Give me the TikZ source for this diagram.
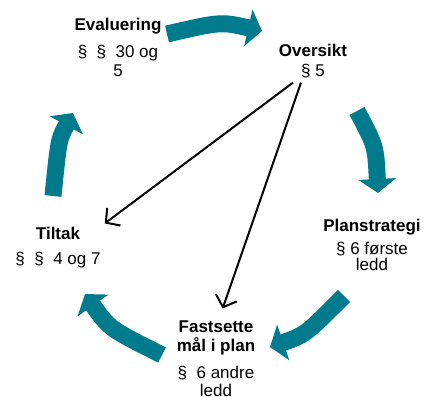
\documentclass[tikz,border=0pt]{standalone}
\usepackage{fontspec}
\setmainfont{Liberation Sans}
\usetikzlibrary{arrows.meta}
\definecolor{syklus}{RGB}{0,122,141}
\begin{document}
\begin{tikzpicture}[
    x=1pt, y=1pt,
    blokk/.style={align=center, inner sep=4pt, anchor=base, font=\fontsize{17}{19}\selectfont},
    sirkelpil/.style={draw=syklus, line width=17pt, -{Triangle[length=14pt, width=37pt]}},
    peker/.style={draw=black, line width=2pt, -{Straight Barb[length=10pt, width=22pt]}}
  ]
  \useasboundingbox (0,0) rectangle (424,397);

  % sykluspiler
  \draw[sirkelpil] (167,363) .. controls (221,375.4) .. (248.4,369.1) -- (262,366);
  \draw[sirkelpil] (357,286) .. controls (375.7,251.1) .. (377.3,218) -- (378,204);
  \draw[sirkelpil] (344,101) .. controls (305,62) .. (283.2,54.5) -- (270,50);
  \draw[sirkelpil] (162,42) .. controls (109.6,68.2) .. (93.1,91.5) -- (85,103);
  \draw[sirkelpil] (53,201) .. controls (58.7,257.7) .. (66.3,271.7) -- (73,284);

  % tekst (base = siste linje)
  \node[blokk] (evaluering) at (118,320) {\textbf{Evaluering}\\[8pt]§\ \ §\ \ 30 og\\5};
  \node[blokk] (oversikt) at (313,320) {\textbf{Oversikt}\\[1pt]§ 5};
  \node[blokk] (plan) at (372,126) {\textbf{Planstrategi}\\[4pt]§ 6 første\\[-3pt]ledd};
  \node[blokk] (tiltak) at (58,132) {\textbf{Tiltak}\\[6pt]§\ \ §\ \ 4 og 7};
  \node[blokk] (maal) at (216,0) {\textbf{Fastsette}\\[1pt]\textbf{mål i plan}\\[8pt]§\ \ 6 andre\\[-1pt]ledd};

  % piler fra oversikt
  \draw[peker] ([xshift=-20pt]oversikt.south) -- (tiltak.north east);
  \draw[peker, shorten >=8pt] ([xshift=-12pt]oversikt.south) -- ([xshift=4pt]maal.north);
\end{tikzpicture}
\end{document}
